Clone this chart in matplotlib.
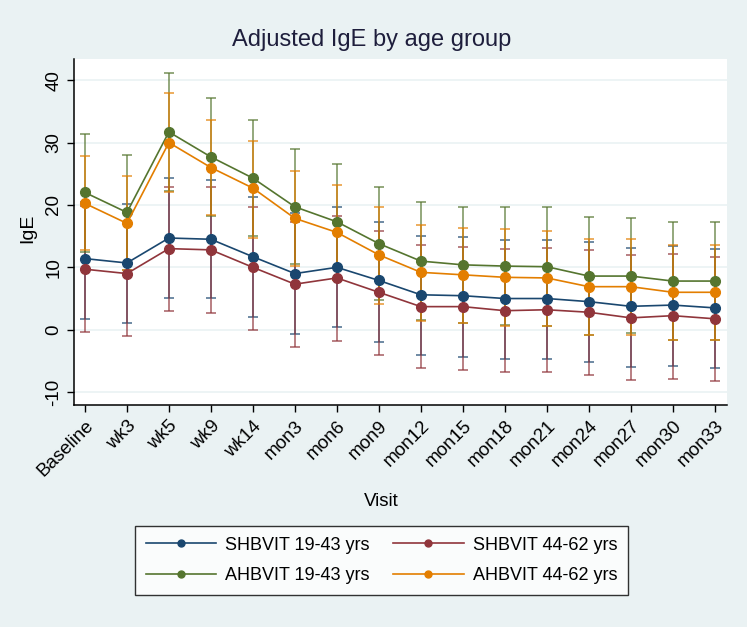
import numpy as np
import matplotlib
matplotlib.use('Agg')
import matplotlib.pyplot as plt

plt.rcParams['font.family'] = ['Liberation Sans', 'DejaVu Sans']

visits = ['Baseline', 'wk3', 'wk5', 'wk9', 'wk14', 'mon3', 'mon6', 'mon9',
          'mon12', 'mon15', 'mon18', 'mon21', 'mon24', 'mon27', 'mon30', 'mon33']

# SHBVIT 19-43 yrs
sh_young = [11.4, 10.7, 14.7, 14.5, 11.7, 9.0, 10.0, 7.9, 5.6, 5.45, 5.0, 5.0, 4.5, 3.75, 3.95, 3.5]
sh_young_lo = [1.7, 1.0, 5.1, 5.1, 2.1, -0.7, 0.4, -1.9, -4.05, -4.3, -4.75, -4.75, -5.1, -5.9, -5.75, -6.2]
sh_young_hi = [20.5, 20.1, 24.3, 24.0, 21.3, 18.7, 19.6, 17.2, 15.0, 14.9, 14.4, 14.4, 14.05, 13.1, 13.5, 12.9]

# SHBVIT 44-62 yrs
sh_old = [9.7, 9.0, 13.0, 12.8, 10.0, 7.3, 8.3, 6.0, 3.7, 3.7, 3.05, 3.2, 2.8, 1.9, 2.25, 1.75]
sh_old_lo = [-0.4, -1.0, 3.0, 2.7, 0.0, -2.7, -1.8, -4.0, -6.2, -6.5, -6.8, -6.8, -7.3, -8.1, -7.85, -8.3]
sh_old_hi = [19.8, 19.0, 22.9, 22.8, 19.7, 17.3, 18.3, 15.9, 13.6, 13.3, 12.9, 13.1, 12.8, 11.9, 12.1, 11.65]

# AHBVIT 19-43 yrs
ah_young = [22.0, 18.8, 31.7, 27.7, 24.3, 19.7, 17.3, 13.8, 11.0, 10.4, 10.2, 10.1, 8.6, 8.6, 7.8, 7.8]
ah_young_lo = [12.5, 9.6, 22.2, 18.2, 15.0, 10.5, 8.0, 4.7, 1.6, 1.1, 0.8, 0.6, -0.9, -0.6, -1.7, -1.7]
ah_young_hi = [31.4, 28.0, 41.2, 37.2, 33.6, 28.9, 26.6, 22.9, 20.4, 19.7, 19.6, 19.6, 18.1, 17.85, 17.3, 17.3]

# AHBVIT 44-62 yrs
ah_old = [20.25, 17.05, 30.0, 26.0, 22.7, 17.85, 15.6, 12.0, 9.2, 8.8, 8.4, 8.3, 6.9, 6.9, 6.0, 6.0]
ah_old_lo = [12.7, 9.5, 22.1, 18.4, 14.7, 10.2, 8.0, 4.1, 1.45, 1.0, 0.65, 0.65, -0.85, -0.85, -1.7, -1.7]
ah_old_hi = [27.8, 24.6, 37.9, 33.6, 30.2, 25.5, 23.2, 19.6, 16.8, 16.3, 16.1, 15.9, 14.5, 14.5, 13.6, 13.6]

series = [
    ('SHBVIT 19-43 yrs', sh_young, sh_young_lo, sh_young_hi, '#1a476f'),
    ('SHBVIT 44-62 yrs', sh_old, sh_old_lo, sh_old_hi, '#90353b'),
    ('AHBVIT 19-43 yrs', ah_young, ah_young_lo, ah_young_hi, '#55752f'),
    ('AHBVIT 44-62 yrs', ah_old, ah_old_lo, ah_old_hi, '#e37e00'),
]

bg = '#eaf2f3'
fig = plt.figure(figsize=(7.47, 6.27), dpi=100, facecolor=bg)
ax = fig.add_axes([74 / 747, 1 - 405 / 627, 653 / 747, 346 / 627])
ax.set_facecolor('white')

x = np.arange(len(visits))
handles = []
for name, y, lo, hi, c in series:
    y = np.array(y)
    err = [y - np.array(lo), np.array(hi) - y]
    ax.errorbar(x, y, yerr=err, fmt='none', ecolor=c, elinewidth=1.1,
                capsize=3.8, capthick=1.1, alpha=0.8, zorder=2)
    h, = ax.plot(x, y, color=c, lw=1.2, marker='o', ms=7, zorder=3, label=name)
    handles.append(h)

ax.set_xlim(-0.26, 15.29)
ax.set_ylim(-12.07, 43.4)
ax.set_yticks([-10, 0, 10, 20, 30, 40])
ax.set_yticklabels(['-10', '0', '10', '20', '30', '40'], rotation=90, va='center')
ax.set_xticks(x)
ax.set_xticklabels(visits, rotation=45, ha='right', rotation_mode='anchor')
ax.tick_params(axis='both', labelsize=13.5, length=5, width=1, direction='out', color='black')
ax.tick_params(axis='x', pad=4)
ax.yaxis.grid(True, color=bg, lw=1.2)
ax.set_axisbelow(True)
for s in ['top', 'right']:
    ax.spines[s].set_visible(False)
for s in ['left', 'bottom']:
    ax.spines[s].set_linewidth(1.1)

fig.text(372 / 747, 1 - 40 / 627, 'Adjusted IgE by age group', ha='center', va='center',
         fontsize=17, color='#1e1e3c')
fig.text(28 / 747, 1 - 228 / 627, 'IgE', ha='center', va='center', rotation=90, fontsize=14)
fig.text(381 / 747, 1 - 502 / 627, 'Visit', ha='center', va='center', fontsize=13.5)

# legend fills by column, so order handles to get SHBVIT on the first row
order = [0, 2, 1, 3]
leg = fig.legend(handles=[handles[i] for i in order], loc='center',
                 bbox_to_anchor=(381.5 / 747, 1 - 560.5 / 627),
                 ncol=2, fontsize=13, frameon=True, fancybox=False, edgecolor='black',
                 handlelength=3.9, handletextpad=0.5, columnspacing=1.3,
                 borderpad=0.6, labelspacing=0.75, borderaxespad=0)
leg.get_frame().set_linewidth(1.0)
for h in leg.legend_handles:
    h.set_markersize(5)

fig.savefig('out.png', dpi=100, facecolor=bg)
